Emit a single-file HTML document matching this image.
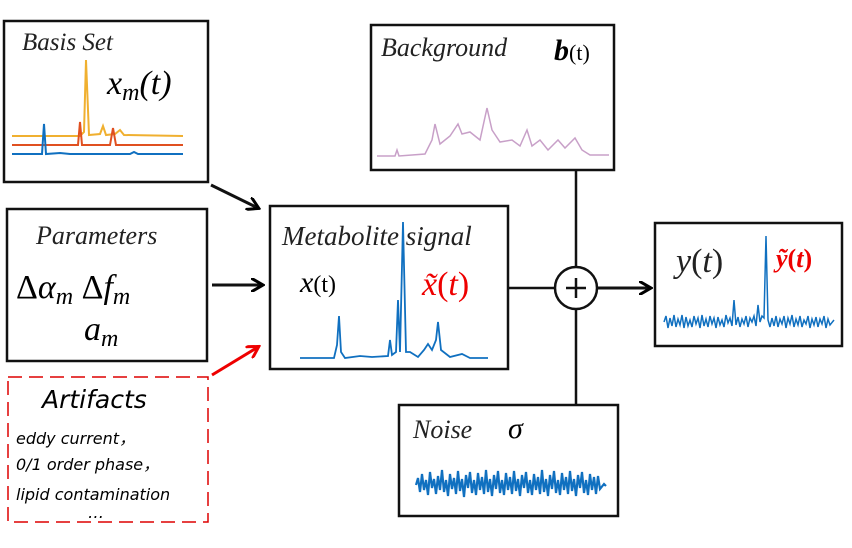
<!DOCTYPE html><html><head><style>body{margin:0;width:852px;height:543px;background:#fff;overflow:hidden}</style></head><body>
<svg width="852" height="543" viewBox="0 0 852 543" xmlns="http://www.w3.org/2000/svg">
<defs><marker id="a" markerWidth="14" markerHeight="14" refX="11" refY="7" orient="auto" markerUnits="userSpaceOnUse"><path d="M0,0 L12,7 L0,14" fill="none" stroke="#000" stroke-width="3"/></marker>
<marker id="r" markerWidth="14" markerHeight="14" refX="11" refY="7" orient="auto" markerUnits="userSpaceOnUse"><path d="M0,0 L12,7 L0,14" fill="none" stroke="#e00" stroke-width="3"/></marker></defs>
<g fill="none" stroke="#111" stroke-width="2.5">
<rect x="4" y="21" width="204" height="161"/>
<rect x="7" y="209" width="200" height="152"/>
<rect x="270" y="206" width="238" height="163"/>
<rect x="371" y="25" width="243" height="145"/>
<rect x="399" y="405" width="219" height="111"/>
<rect x="655" y="223" width="187" height="123"/>
<line x1="508" y1="288" x2="555" y2="288"/>
<line x1="576" y1="170" x2="576" y2="267"/><line x1="576" y1="309" x2="576" y2="405"/>
<line x1="597" y1="288" x2="650" y2="288" marker-end="url(#a)" stroke-width="3"/>
<circle cx="576" cy="288" r="21"/>
<line x1="566" y1="288" x2="586" y2="288"/><line x1="576" y1="278" x2="576" y2="298"/>
<line x1="211" y1="185" x2="258" y2="208" marker-end="url(#a)" stroke-width="3"/>
<line x1="212" y1="285" x2="262" y2="285" marker-end="url(#a)" stroke-width="3"/>
<line x1="212" y1="375" x2="258" y2="347" marker-end="url(#r)" stroke="#e00" stroke-width="3"/>
</g>
<rect x="8" y="377" width="200" height="145" fill="none" stroke="#d00" stroke-width="1.5" stroke-dasharray="14,7"/>
<g font-family="Liberation Serif,serif" font-style="italic" fill="#222">
<text x="22" y="50" font-size="25">Basis Set</text>
<text x="107" y="94" font-size="34" fill="#000">x<tspan font-size="24" dy="6">m</tspan><tspan dy="-6">(t)</tspan></text>
<text x="36" y="244" font-size="26">Parameters</text>
<text x="16" y="298" font-size="34" font-style="normal" fill="#000">Δ<tspan font-style="italic">α</tspan><tspan font-size="24" dy="6" font-style="italic">m</tspan><tspan dy="-6">  Δ</tspan><tspan font-style="italic">f</tspan><tspan font-size="24" dy="6" font-style="italic">m</tspan></text>
<text x="84" y="340" font-size="34" fill="#000">a<tspan font-size="24" dy="6">m</tspan></text>
<text x="282" y="245" font-size="27">Metabolite signal</text>
<text x="300" y="292" font-size="30" fill="#000">x<tspan font-style="normal" font-size="24">(t)</tspan></text>
<text x="422" y="295" font-size="34" fill="#e00">x̃<tspan font-style="normal">(</tspan>t<tspan font-style="normal">)</tspan></text>
<text x="381" y="56" font-size="26">Background</text>
<text x="554" y="60" font-size="30" font-weight="bold" fill="#000">b<tspan font-style="normal" font-weight="normal" font-size="22">(t)</tspan></text>
<text x="413" y="438" font-size="26">Noise</text>
<text x="508" y="438" font-size="30" fill="#000">σ</text>
<text x="676" y="272" font-size="34" fill="#222">y<tspan font-style="normal">(</tspan>t<tspan font-style="normal">)</tspan></text>
<text x="776" y="267" font-size="26" font-weight="bold" fill="#e00">ỹ<tspan font-style="normal">(</tspan>t<tspan font-style="normal">)</tspan></text>
</g>
<g font-family="DejaVu Sans,sans-serif" font-style="italic" fill="#000">
<text x="42" y="408" font-size="25">Artifacts</text>
<text x="16" y="444" font-size="16">eddy current，</text>
<text x="16" y="470" font-size="16">0/1 order phase，</text>
<text x="16" y="500" font-size="16">lipid contamination</text>
<text x="88" y="518" font-size="16">…</text>
</g>
<g fill="none" stroke-width="2">
<polyline stroke="#f0b030" points="12,136 80,136 84,132 86,60 89,135 100,134 103,126 106,135 115,134 120,130 124,135 183,136"/>
<polyline stroke="#e05020" points="12,145 78,145 80,122 82,145 110,145 113,128 116,145 183,145"/>
<polyline stroke="#1070c0" points="12,154 42,154 44,124 46,154 60,153 70,154 130,154 134,152 138,154 183,154"/>
<polyline stroke="#c8a0c8" stroke-width="1.5" points="377,156 395,156 397,150 399,156 425,154 432,140 435,124 440,144 450,136 458,124 462,134 470,132 480,140 487,108 492,130 500,142 512,140 520,146 527,130 532,146 540,140 548,150 558,140 565,148 575,138 582,150 590,155 609,155"/>
<polyline stroke="#1070c0" stroke-width="1.8" points="300,358 334,358 337,345 339,316 341,352 345,358 360,356 372,357 388,356 390,340 392,355 396,352 398,300 400,352 403,222 406,352 410,352 418,357 424,350 428,344 432,350 436,340 438,322 441,350 450,357 462,354 470,358 488,358"/>
</g>
<polyline fill="none" stroke="#1070c0" stroke-width="2.2" points="416,485 418,478 420,492 422,474 424,490 426,480 428,495 430,472 432,488 434,479 436,494 438,476 440,490 442,470 444,492 446,480 448,496 450,474 452,489 454,478 456,494 458,471 460,491 462,479 464,497 466,475 468,488 470,472 472,493 474,480 476,495 478,473 480,490 482,477 484,494 486,470 488,492 490,479 492,496 494,475 496,489 498,471 500,493 502,480 504,495 506,473 508,490 510,477 512,494 514,471 516,491 518,479 520,496 522,475 524,488 526,472 528,493 530,480 532,495 534,474 536,490 538,477 540,494 542,470 544,492 546,479 548,496 550,475 552,489 554,471 556,493 558,480 560,495 562,473 564,490 566,477 568,494 570,471 572,491 574,479 576,496 578,475 580,488 582,472 584,493 586,480 588,495 590,474 592,490 594,477 596,494 598,476 600,489 604,484 606,486"/>
<polyline fill="none" stroke="#1070c0" stroke-width="1.5" points="664,322 666,316 668,328 670,318 672,326 674,315 676,327 678,319 680,325 682,315 684,328 686,317 688,326 690,320 692,327 694,316 696,324 698,318 700,328 702,315 704,326 706,319 708,327 710,316 712,324 714,318 716,328 718,317 720,325 722,320 724,327 726,315 728,323 730,318 732,326 734,300 736,325 738,317 740,327 742,319 744,324 746,316 748,327 750,318 752,322 754,316 756,326 758,305 760,322 762,316 764,318 766,236 768,320 770,327 772,318 774,326 776,316 778,327 780,319 782,324 784,316 786,328 788,318 790,324 792,315 794,327 796,319 798,325 800,316 802,327 804,320 806,324 808,316 810,328 812,319 814,325 816,317 818,327 820,319 822,324 824,316 826,328 828,319 830,325 834,320"/>
</svg>
</body></html>
